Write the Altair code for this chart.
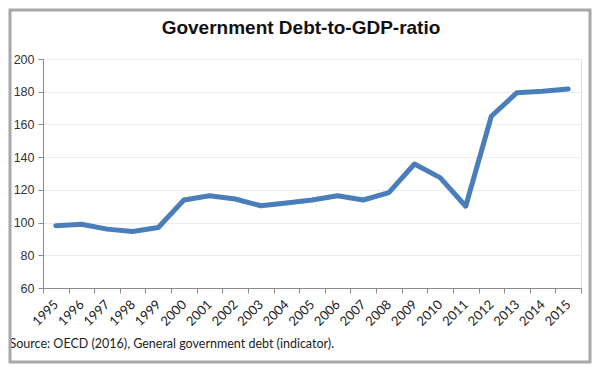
import altair as alt
import pandas as pd

years = [str(y) for y in range(1995, 2016)]
debt = [98.1, 99.0, 96.0, 94.5, 97.0, 113.8, 116.4, 114.4, 110.3, 112.0, 113.8,
        116.4, 113.8, 118.3, 135.8, 127.5, 110.0, 165.0, 179.4, 180.3, 181.7]
y_ticks = [60, 80, 100, 120, 140, 160, 180, 200]
title_text = ["Government Debt-to-GDP-ratio"]
source_text = "Source: OECD (2016), General government debt (indicator)."

df = pd.DataFrame({"Year": years, "Debt": debt})
tdf = pd.DataFrame({"t": title_text})

W, H = 538, 229

line = alt.Chart(df).mark_line(
    color="#4a7ebb", strokeWidth=5, strokeCap="round", strokeJoin="round"
).encode(
    x=alt.X("Year:O",
            scale=alt.Scale(type="band", paddingInner=0, paddingOuter=0),
            axis=alt.Axis(
                title=source_text,
                titleX=-34, titleY=55, titleAlign="left", titleAnchor="start",
                titleBaseline="middle", titleAngle=0,
                titleFont="Lato", titleFontSize=12.5, titleFontWeight="normal",
                titleColor="#222222",
                labelAngle=-45, labelAlign="right", labelBaseline="middle",
                labelFont="Lato", labelFontSize=13, labelColor="#222222",
                labelPadding=9, tickBand="extent", tickSize=5,
                tickColor="#8a8a8a", domainColor="#8a8a8a", grid=False,
            )),
    y=alt.Y("Debt:Q",
            scale=alt.Scale(domain=[60, 200], nice=False, zero=False),
            axis=alt.Axis(
                title=None, values=y_ticks, labelFont="Liberation Sans",
                labelFontSize=12.5, labelColor="#333333", labelPadding=4,
                tickSize=5, tickColor="#8a8a8a", domainColor="#8a8a8a",
                gridColor="#ececec", gridWidth=1,
            )),
)

border = alt.Chart(tdf).mark_rect(
    fill=None, stroke="#a8a8a8", strokeWidth=3, clip=False
).encode(
    x=alt.value(-33), x2=alt.value(W + 9),
    y=alt.value(-49), y2=alt.value(H + 74),
)

title = alt.Chart(tdf).mark_text(
    font="Liberation Sans", fontSize=19, fontWeight="bold", color="#111111",
    align="center", baseline="middle", clip=False
).encode(
    text="t:N", x=alt.value(W / 2 - 11), y=alt.value(-31),
)

chart = alt.layer(border, line, title).properties(
    width=W, height=H,
    autosize=alt.AutoSizeParams(type="none"),
    padding={"left": 35, "top": 51, "right": 11, "bottom": 76},
).configure_view(stroke=None).configure(background="white")

chart.save("out.html", embed_options={"renderer": "svg", "actions": False})
